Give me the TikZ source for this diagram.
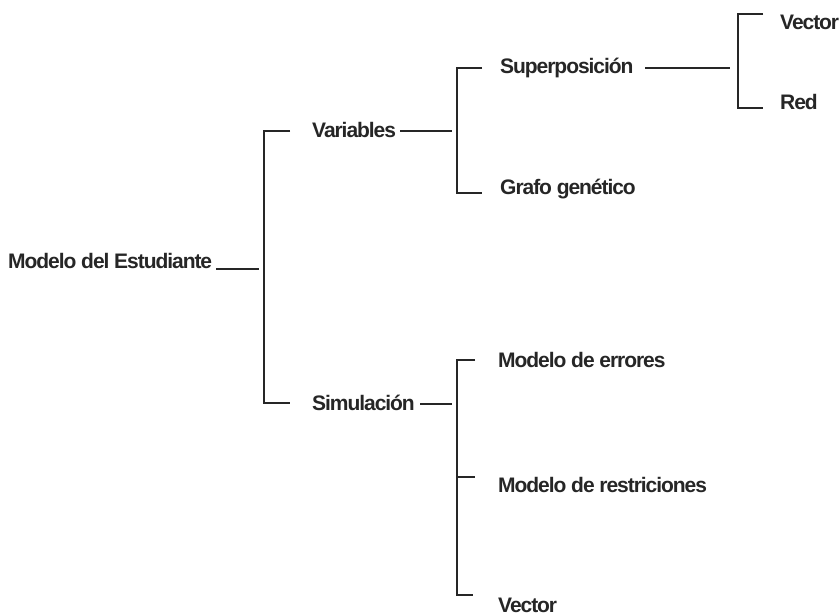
\documentclass[tikz,border=0pt]{standalone}
\usepackage{fontspec}
\setmainfont{Liberation Sans}[LetterSpace=-5]
\begin{document}
\begin{tikzpicture}[x=1pt,y=-1pt,
  lbl/.style={anchor=base west,inner sep=0pt,font=\fontsize{21}{24}\selectfont\bfseries,text=black!85},
  conn/.style={line width=1.1pt,draw=black!85}]
\useasboundingbox[fill=white] (0,0) rectangle (839,615);

% labels, placed by baseline
\node[lbl] (root) at (8,269)  {Modelo del Estudiante};
\node[lbl] (var)  at (312,138) {Variables};
\node[lbl] (sim)  at (312,410) {Simulación};
\node[lbl] (sup)  at (500,74)  {Superposición};
\node[lbl] (gra)  at (500,195) {Grafo genético};
\node[lbl] (vec)  at (780,30)  {Vector};
\node[lbl] (red)  at (780,110) {Red};
\node[lbl] (err)  at (498,367) {Modelo de errores};
\node[lbl] (res)  at (498,492) {Modelo de restriciones};
\node[lbl] (vecb) at (498,612) {Vector};

% bracket corners and arm ends
\coordinate (r0) at (216,269); \coordinate (r1) at (259,269);
\coordinate (b1t) at (290,131); \coordinate (b1b) at (290,403);
\coordinate (v0) at (400,131); \coordinate (v1) at (452,131);
\coordinate (b2t) at (482,68);  \coordinate (b2b) at (482,193);
\coordinate (s0) at (645,68);  \coordinate (s1) at (730,68);
\coordinate (b3t) at (763,14);  \coordinate (b3b) at (763,108);
\coordinate (m0) at (420,404); \coordinate (m1) at (452,404);
\coordinate (b4t) at (475,360); \coordinate (b4m) at (475,477); \coordinate (b4b) at (473,595);

% root level
\draw[conn] (r0) -- (r1);
\draw[conn] (b1t) -- (264,131) -- (264,403) -- (b1b);

% Variables branch
\draw[conn] (v0) -- (v1);
\draw[conn] (b2t) -- (457,68) -- (457,193) -- (b2b);
\draw[conn] (s0) -- (s1);
\draw[conn] (b3t) -- (738,14) -- (738,108) -- (b3b);

% Simulación branch
\draw[conn] (m0) -- (m1);
\draw[conn] (b4t) -- (457,360) -- (457,595) -- (b4b);
\draw[conn] (457,477) -- (b4m);
\end{tikzpicture}
\end{document}
